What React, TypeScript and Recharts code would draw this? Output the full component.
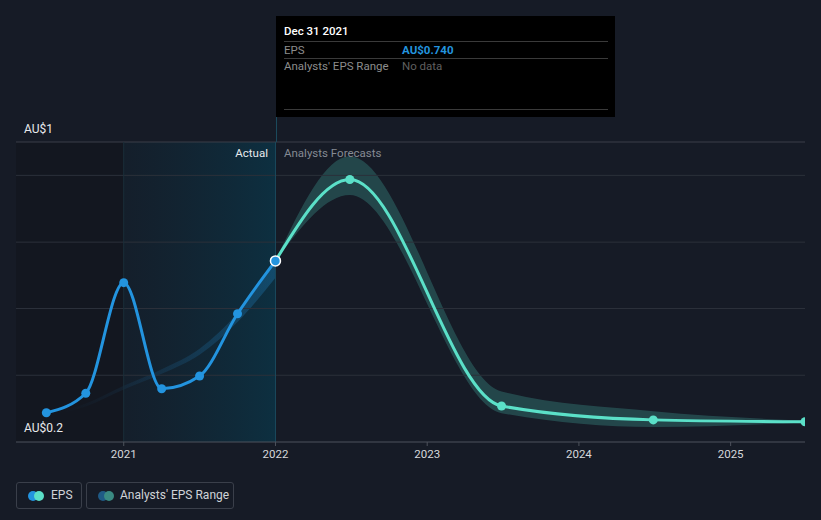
import {
  ComposedChart,
  Line,
  Area,
  XAxis,
  YAxis,
  ReferenceLine,
  ReferenceArea,
} from "recharts";

// EPS history + analyst forecast, dark theme

const BG = "#161b26";
const EPS_BLUE = "#2394df";
const FORECAST_CYAN = "#5be0c8";

const YEAR_TICKS = [2021, 2022, 2023, 2024, 2025];
const X_DOMAIN: [number, number] = [2020.29, 2025.49];
const Y_DOMAIN: [number, number] = [0.2, 1.0];
const GRID_VALUES = [0.378, 0.556, 0.733, 0.911];

// reported EPS (AU$)
const EPS_DATES = [2020.49, 2020.75, 2021.0, 2021.25, 2021.5, 2021.75, 2022.0];
const EPS_VALUES = [0.278, 0.33, 0.625, 0.342, 0.376, 0.542, 0.683];

// analyst consensus + range
const FORECAST_DATES = [2022.0, 2022.49, 2023.49, 2024.49, 2025.49];
const FORECAST_VALUES = [0.683, 0.9, 0.296, 0.259, 0.254];
const FORECAST_LOW = [0.683, 0.859, 0.277, 0.24, 0.252];
const FORECAST_HIGH = [0.683, 0.962, 0.335, 0.282, 0.257];

// past estimate range (fades in)
const PAST_DATES = [2020.6, 2020.75, 2021.0, 2021.25, 2021.5, 2021.75, 2022.0];
const PAST_LOW = [0.278, 0.295, 0.34, 0.382, 0.433, 0.52, 0.638];
const PAST_HIGH = [0.284, 0.303, 0.35, 0.394, 0.449, 0.544, 0.683];

const epsData = EPS_DATES.map((x, i) => ({ x, eps: EPS_VALUES[i] }));
const forecastData = FORECAST_DATES.map((x, i) => ({
  x,
  eps: FORECAST_VALUES[i],
  range: [FORECAST_LOW[i], FORECAST_HIGH[i]],
}));
const pastData = PAST_DATES.map((x, i) => ({ x, range: [PAST_LOW[i], PAST_HIGH[i]] }));

const FONT = "Roboto, 'Noto Sans', sans-serif";

function EpsDot(props: any) {
  const { cx, cy, index } = props;
  if (index === EPS_DATES.length - 1) {
    return <circle key={index} cx={cx} cy={cy} r={5} fill={EPS_BLUE} stroke="#ffffff" strokeWidth={1.5} />;
  }
  return <circle key={index} cx={cx} cy={cy} r={4.5} fill={EPS_BLUE} />;
}

function ForecastDot(props: any) {
  const { cx, cy, index } = props;
  if (index === 0) return <g key={index} />;
  return <circle key={index} cx={cx} cy={cy} r={4.5} fill={FORECAST_CYAN} />;
}

export default function App() {
  return (
    <div
      style={{
        position: "absolute",
        left: 0,
        top: 0,
        width: 821,
        height: 520,
        background: BG,
        fontFamily: FONT,
        overflow: "hidden",
      }}
    >
      <ComposedChart
        width={821}
        height={520}
        margin={{ top: 142, right: 16, left: 16, bottom: 48 }}
      >
        <defs>
          <linearGradient id="actualBg" x1="0" y1="0" x2="1" y2="0">
            <stop offset="0%" stopColor="#0f2a3a" stopOpacity={0.25} />
            <stop offset="100%" stopColor="#0b3345" stopOpacity={0.85} />
          </linearGradient>
          <linearGradient id="pastFill" x1="0" y1="0" x2="1" y2="0">
            <stop offset="0%" stopColor={EPS_BLUE} stopOpacity={0} />
            <stop offset="100%" stopColor={EPS_BLUE} stopOpacity={0.45} />
          </linearGradient>
        </defs>

        <XAxis
          type="number"
          dataKey="x"
          domain={X_DOMAIN}
          ticks={YEAR_TICKS}
          allowDataOverflow
          tickFormatter={(v: number) => String(v)}
          tick={{ fontSize: 11.5, fill: "#d6d8dc", fontFamily: FONT }}
          tickSize={4}
          tickMargin={4}
          tickLine={{ stroke: "#4d525c" }}
          axisLine={{ stroke: "#4d525c" }}
          height={30}
        />
        <YAxis type="number" domain={Y_DOMAIN} hide allowDataOverflow />

        <ReferenceArea x1={X_DOMAIN[0]} x2={2021} y1={0.2} y2={1.0} fill="#0f131a" fillOpacity={0.45} stroke="none" />
        <ReferenceArea x1={2021} x2={2022} y1={0.2} y2={1.0} fill="url(#actualBg)" fillOpacity={1} stroke="none" />

        {GRID_VALUES.map((v) => (
          <ReferenceLine key={v} y={v} stroke="#2b303a" strokeWidth={1} />
        ))}
        <ReferenceLine y={1.0} stroke="#3a3f49" strokeWidth={1} />
        <ReferenceLine x={2021} stroke="#1a2f3a" strokeWidth={1} />
        <ReferenceLine x={2022} stroke="#1b4a5c" strokeWidth={1} />

        <Area
          data={pastData}
          dataKey="range"
          type="monotone"
          fill="url(#pastFill)"
          stroke="none"
          isAnimationActive={false}
        />
        <Area
          data={forecastData}
          dataKey="range"
          type="monotone"
          fill="#4fd1bf"
          fillOpacity={0.24}
          stroke="none"
          isAnimationActive={false}
        />
        <Line
          data={forecastData}
          dataKey="eps"
          type="monotone"
          stroke={FORECAST_CYAN}
          strokeWidth={3}
          dot={ForecastDot}
          activeDot={false}
          isAnimationActive={false}
        />
        <Line
          data={epsData}
          dataKey="eps"
          type="monotone"
          stroke={EPS_BLUE}
          strokeWidth={3}
          dot={EpsDot}
          activeDot={false}
          isAnimationActive={false}
        />
      </ComposedChart>

      {/* axis value labels */}
      <div style={{ position: "absolute", left: 24, top: 122, fontSize: 12, color: "#e8eaed" }}>AU$1</div>
      <div style={{ position: "absolute", left: 24, top: 421, fontSize: 12, color: "#e8eaed" }}>AU$0.2</div>

      {/* section labels */}
      <div style={{ position: "absolute", right: 821 - 268, top: 146, fontSize: 11.5, color: "#e8eaed" }}>Actual</div>
      <div style={{ position: "absolute", left: 284, top: 146, fontSize: 11.5, color: "#858a93" }}>Analysts Forecasts</div>

      {/* tooltip stem */}
      <div style={{ position: "absolute", left: 276, top: 117, width: 1, height: 25, background: "#1b4a5c" }} />

      {/* tooltip */}
      <div
        style={{
          position: "absolute",
          left: 276,
          top: 16,
          width: 339,
          height: 101,
          background: "#000000",
          fontSize: 11.5,
        }}
      >
        <div style={{ position: "absolute", left: 8, top: 8, color: "#ffffff", fontWeight: 500 }}>Dec 31 2021</div>
        <div style={{ position: "absolute", left: 8, right: 7, top: 25, height: 1, background: "#3a3a3a" }} />
        <div style={{ position: "absolute", left: 8, top: 27, color: "#8d8d8d" }}>EPS</div>
        <div style={{ position: "absolute", left: 126, top: 27, color: EPS_BLUE, fontWeight: 700 }}>AU$0.740</div>
        <div style={{ position: "absolute", left: 8, right: 7, top: 42, height: 1, background: "#3a3a3a" }} />
        <div style={{ position: "absolute", left: 8, top: 43, color: "#8d8d8d" }}>Analysts' EPS Range</div>
        <div style={{ position: "absolute", left: 126, top: 43, color: "#5f5f5f" }}>No data</div>
        <div style={{ position: "absolute", left: 8, right: 7, top: 93, height: 1, background: "#3a3a3a" }} />
      </div>

      {/* legend */}
      <div
        style={{
          position: "absolute",
          left: 16,
          top: 482,
          width: 66,
          height: 27,
          border: "1px solid #3a3f4a",
          borderRadius: 3,
          boxSizing: "border-box",
        }}
      >
        <span style={{ position: "absolute", left: 11, top: 8, width: 10, height: 10, borderRadius: 5, background: EPS_BLUE }} />
        <span style={{ position: "absolute", left: 17, top: 8, width: 10, height: 10, borderRadius: 5, background: FORECAST_CYAN }} />
        <span style={{ position: "absolute", left: 34, top: 5, fontSize: 12, color: "#d0d3d8" }}>EPS</span>
      </div>
      <div
        style={{
          position: "absolute",
          left: 86,
          top: 482,
          width: 148,
          height: 27,
          border: "1px solid #3a3f4a",
          borderRadius: 3,
          boxSizing: "border-box",
        }}
      >
        <span style={{ position: "absolute", left: 11, top: 8, width: 10, height: 10, borderRadius: 5, background: "#1f5a85" }} />
        <span style={{ position: "absolute", left: 17, top: 8, width: 10, height: 10, borderRadius: 5, background: "#3a8a82" }} />
        <span style={{ position: "absolute", left: 33, top: 5, fontSize: 12, color: "#d0d3d8" }}>Analysts' EPS Range</span>
      </div>
    </div>
  );
}
